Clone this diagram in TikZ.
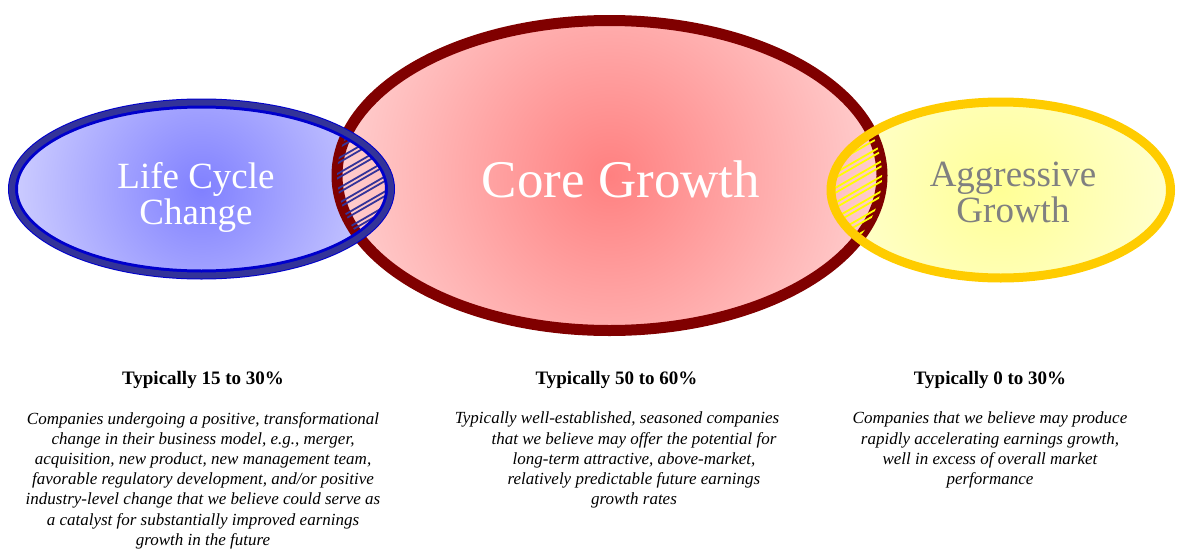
\documentclass[tikz,border=0pt]{standalone}
\usepackage{fontspec}
\setmainfont{Liberation Serif}
\usetikzlibrary{positioning}
\definecolor{lcblue}{RGB}{0,0,204}
\definecolor{lcnavy}{RGB}{51,51,153}
\definecolor{lcinner}{RGB}{128,128,255}
\definecolor{lcouter}{RGB}{206,206,255}
\definecolor{cgred}{RGB}{128,0,0}
\definecolor{cginner}{RGB}{255,128,128}
\definecolor{cgouter}{RGB}{255,206,206}
\definecolor{aggold}{RGB}{255,204,0}
\definecolor{aginner}{RGB}{255,255,150}
\definecolor{agouter}{RGB}{255,255,208}
\definecolor{aghatch}{RGB}{255,255,0}
\definecolor{agtext}{RGB}{128,128,128}
\pgfdeclareradialshading{lcglow}{\pgfpoint{0bp}{0bp}}{color(0bp)=(lcinner); color(25bp)=(lcouter); color(50bp)=(lcouter)}
\pgfdeclareradialshading{cgglow}{\pgfpoint{0bp}{0bp}}{color(0bp)=(cginner); color(25bp)=(cgouter); color(50bp)=(cgouter)}
\pgfdeclareradialshading{agglow}{\pgfpoint{0bp}{0bp}}{color(0bp)=(aginner); color(25bp)=(agouter); color(50bp)=(agouter)}

\begin{document}
\begin{tikzpicture}[x=1pt, y=1pt,
  bigtxt/.style={align=center, inner sep=0pt, font=\fontsize{37}{36}\selectfont},
  headtxt/.style={inner sep=0pt, font=\fontsize{19}{22}\selectfont\bfseries},
  bodytxt/.style={align=center, inner sep=0pt, font=\fontsize{17}{20.2}\selectfont\itshape},
  lcline/.style={line width=1.8pt, draw=lcnavy},
  agline/.style={line width=1.8pt, draw=aghatch},
]
\useasboundingbox (0,0) rectangle (1178,-549);
\coordinate (lcc) at (201.5,-189);
\coordinate (cgc) at (609.5,-175.5);
\coordinate (agc) at (1000.75,-190);

% fills
\begin{scope}
  \clip (lcc) ellipse [x radius=188.5, y radius=85.5];
  \shade[shading=lcglow] (lcc) circle [radius=193];
\end{scope}
\begin{scope}
  \clip (agc) ellipse [x radius=169.75, y radius=88];
  \shade[shading=agglow] (agc) circle [radius=175];
\end{scope}
\begin{scope}
  \clip (cgc) ellipse [x radius=272.5, y radius=155];
  \shade[shading=cgglow] (cgc) circle [radius=272.5];
\end{scope}
\draw[cgred, line width=11pt] (cgc) ellipse [x radius=272.5, y radius=155];

% hatched overlaps
\begin{scope}
  \clip (lcc) ellipse [x radius=188.5, y radius=85.5];
  \clip (cgc) ellipse [x radius=272.5, y radius=155];
  \foreach \v in {-96,-81,...,96}
    \draw[lcline] (300,{\v-224}) -- (430,{\v-149}) (300,{\v-219.5}) -- (430,{\v-144.5});
\end{scope}
\begin{scope}
  \clip (agc) ellipse [x radius=169.75, y radius=88];
  \clip (cgc) ellipse [x radius=272.5, y radius=155];
  \foreach \v in {-96,-81,...,96}
    \draw[agline] (790,{\v-228}) -- (920,{\v-153}) (790,{\v-223}) -- (920,{\v-148});
\end{scope}

% outlines
\draw[lcblue, line width=10pt] (lcc) ellipse [x radius=188.5, y radius=85.5];
\draw[lcnavy, line width=6pt] (lcc) ellipse [x radius=189.5, y radius=86.5];
\draw[aggold, line width=9pt] (agc) ellipse [x radius=169.75, y radius=88];

\node[bigtxt, text=white] (lctxt) at (196,-197) {Life Cycle\\Change};
\node[bigtxt, text=white, font=\fontsize{53}{56}\selectfont] (cgtxt) at (621,-179) {Core Growth};
\node[bigtxt, text=agtext] (agtxt) at (1013,-192) {Aggressive\\Growth};

\node[headtxt] (lchead) at (203,-380) {Typically 15 to 30\%};
\node[headtxt] (cghead) at (616.5,-380) {Typically 50 to 60\%};
\node[headtxt] (aghead) at (990,-380) {Typically 0 to 30\%};

\node[bodytxt, below=23pt of lchead] (lcbody) {Companies undergoing a positive, transformational\\
  change in their business model, e.g., merger,\\
  acquisition, new product, new management team,\\
  favorable regulatory development, and/or positive\\
  industry-level change that we believe could serve as\\
  a catalyst for substantially improved earnings\\
  growth in the future};
\node[bodytxt, below=23pt of cghead, xshift=17.5pt] (cgbody) {Typically well-established, seasoned companies\hspace*{34pt}\\
  that we believe may offer the potential for\\
  long-term attractive, above-market,\\
  relatively predictable future earnings\\
  growth rates};
\node[bodytxt, below=23pt of aghead] (agbody) {Companies that we believe may produce\\
  rapidly accelerating earnings growth,\\
  well in excess of overall market\\
  performance};
\end{tikzpicture}
\end{document}
